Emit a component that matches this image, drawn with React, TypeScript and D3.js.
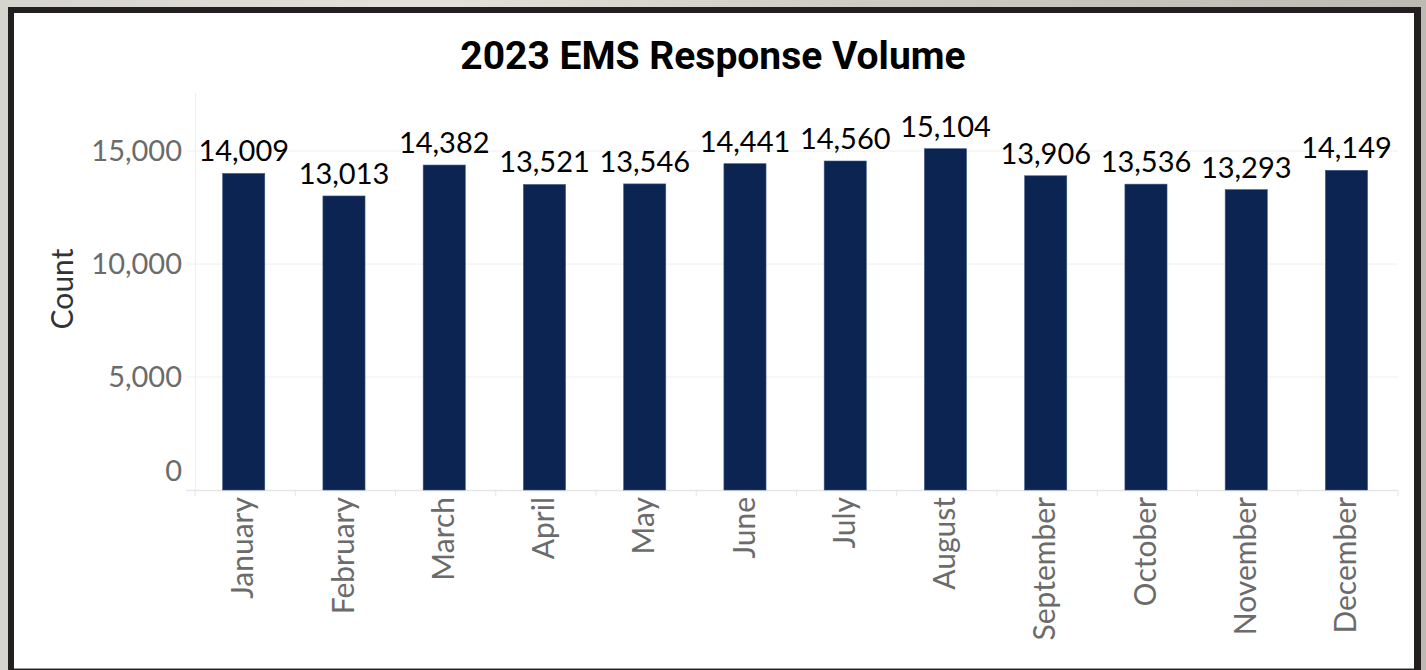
import React from "react";
import * as d3 from "d3";

const months = ["January","February","March","April","May","June","July","August","September","October","November","December"];
const counts = [14009, 13013, 14382, 13521, 13546, 14441, 14560, 15104, 13906, 13536, 13293, 14149];
const yTicks = [0, 5000, 10000, 15000];
const title = "2023 EMS Response Volume";
const yTitle = "Count";

const W = 1426, H = 670;
const left = 195, right = 1398, top = 93, bottom = 490;

export default function App() {
  const x = d3.scaleBand<string>().domain(months).range([left, right]).paddingInner(0.58).paddingOuter(0.29);
  const y = d3.scaleLinear().domain([0, 17570]).range([bottom, top]);
  const fmt = d3.format(",");
  const step = x.step();
  const font = "Lato, 'Open Sans', sans-serif";
  return (
    <svg width={W} height={H} style={{ position: "fixed", left: 0, top: 0, display: "block" }}>
      <defs>
        <linearGradient id="bg" x1="0" y1="0" x2="1" y2="0">
          <stop offset="0" stopColor="#d6d4cf" />
          <stop offset="0.3" stopColor="#e4e1da" />
          <stop offset="0.6" stopColor="#cfccc4" />
          <stop offset="1" stopColor="#bdbab3" />
        </linearGradient>
      </defs>
      <rect x={0} y={0} width={W} height={H} fill="url(#bg)" />
      <rect x={8} y={7} width={1413} height={H} fill="#231f20" />
      <rect x={14} y={13} width={1400} height={655} fill="#ffffff" />
      <line x1={14} x2={1414} y1={668.5} y2={668.5} stroke="#9a9a9a" strokeWidth={1} />

      <text x={713} y={69} textAnchor="middle" fontFamily="Roboto, sans-serif" fontWeight={700} fontSize={39} fill="#000">{title}</text>

      {yTicks.filter(t => t > 0).map(t => (
        <line key={"g" + t} x1={187} x2={right} y1={y(t)} y2={y(t)} stroke="#efefef" strokeWidth={1} />
      ))}
      <line x1={left + 0.5} x2={left + 0.5} y1={top} y2={bottom} stroke="#eeeeee" strokeWidth={1} />
      <line x1={186} x2={right} y1={bottom + 0.5} y2={bottom + 0.5} stroke="#e6e6e6" strokeWidth={1.5} />
      {d3.range(months.length + 1).map(i => (
        <line key={"t" + i} x1={left + i * step} x2={left + i * step} y1={bottom} y2={bottom + 6} stroke="#e6e6e6" strokeWidth={1} />
      ))}

      {yTicks.map(t => (
        <text key={"yl" + t} x={182} y={Math.min(y(t), bottom - 19)} dy="0.35em" textAnchor="end" fontFamily={font} fontSize={29} fill="#6b6b6b">{fmt(t)}</text>
      ))}
      <text transform={`translate(62,289) rotate(-90)`} dy="0.35em" textAnchor="middle" fontFamily={font} fontSize={30} fill="#333">{yTitle}</text>

      {months.map((m, i) => (
        <g key={m}>
          <rect x={x(m)! - 1.4} y={y(counts[i])} width={x.bandwidth()} height={bottom - y(counts[i])} fill="#0b2452" stroke="#3d5685" strokeWidth={0.6} />
          <text x={x(m)! - 1.4 + x.bandwidth() / 2} y={y(counts[i]) - 12} textAnchor="middle" fontFamily={font} fontSize={29} fill="#000">{fmt(counts[i])}</text>
          <text transform={`translate(${x(m)! - 1.4 + x.bandwidth() / 2},497) rotate(-90)`} dy="0.32em" textAnchor="end" fontFamily={font} fontSize={30} fill="#6b6b6b">{m}</text>
        </g>
      ))}
    </svg>
  );
}
